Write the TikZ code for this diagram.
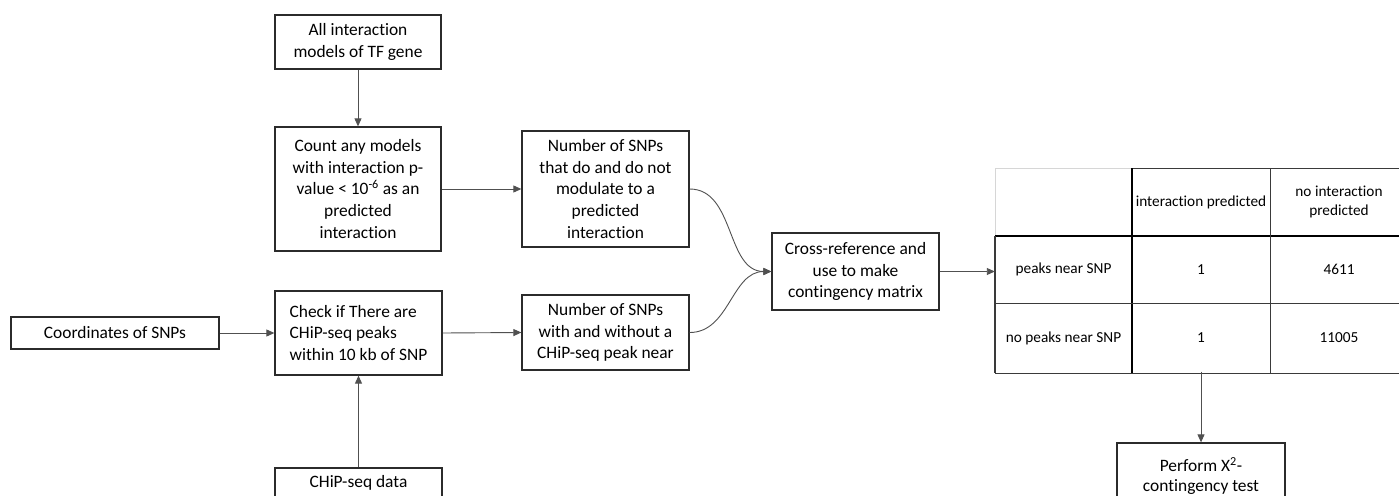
\documentclass[tikz,border=0pt]{standalone}
\usepackage{fontspec}
\setmainfont{Carlito}[Ligatures=NoCommon]
\usetikzlibrary{arrows.meta}
\definecolor{boxline}{HTML}{2B2B2B}
\definecolor{linkgray}{HTML}{505050}
\definecolor{gridline}{HTML}{3A3A3A}
\definecolor{faintline}{HTML}{D6D6D6}
\begin{document}
\begin{tikzpicture}[x=1pt,y=-1pt,
  box/.style={draw=boxline,line width=1.3pt,fill=white,inner sep=0pt,align=center,
    font=\fontsize{17.4}{21.6}\selectfont},
  link/.style={draw=linkgray,line width=0.9pt,-{Triangle[length=8pt,width=7pt]}},
  cell/.style={inner sep=0pt,align=center,minimum width=137pt,minimum height=67pt,
    font=\fontsize{15.3}{19.5}\selectfont},
  grid/.style={draw=gridline,line width=0.9pt},
]
\fill[white] (0,0) rectangle (1399,495);
\useasboundingbox (0,0) rectangle (1399,495);

% process boxes
\node[box,minimum width=166pt,minimum height=54pt] (all) at (358,42)
  {All interaction\\models of TF gene};
\node[box,minimum width=166pt,minimum height=124pt] (count) at (358,189)
  {Count any models\\with interaction p-\\value < 10\textsuperscript{-6} as an\\predicted\\interaction};
\node[box,minimum width=208pt,minimum height=32pt] (coords) at (115,333)
  {Coordinates of SNPs};
\node[box,align=left,minimum width=167pt,minimum height=84pt] (check) at (358.5,333)
  {Check if There are\\CHiP-seq peaks\\within 10 kb of SNP};
\node[box,minimum width=167pt,minimum height=30pt] (chip) at (358.5,483)
  {CHiP-seq data};
\node[box,minimum width=167pt,minimum height=116pt] (num1) at (605.5,189)
  {Number of SNPs\\that do and do not\\modulate to a\\predicted\\interaction};
\node[box,minimum width=167pt,minimum height=75pt] (num2) at (605.5,332.5)
  {Number of SNPs\\with and without a\\CHiP-seq peak near};
\node[box,minimum width=167pt,minimum height=77pt] (cross) at (855.5,271.5)
  {Cross-reference and\\use to make\\contingency matrix};
\node[box,minimum width=168pt,minimum height=66pt,
      font=\fontsize{17.4}{20.5}\selectfont] (perform) at (1201,476)
  {Perform X\textsuperscript{2}-\\contingency test};

% contingency table
\node[cell] (h2) at (1201,202) {interaction predicted};
\node[cell] (h3) at (1339,202) {no interaction\\predicted};
\node[cell] (r1) at (1063.5,269.5) {peaks near SNP};
\node[cell] (r1a) at (1201,269.5) {1};
\node[cell] (r1b) at (1339,269.5) {4611};
\node[cell] (r2) at (1063.5,338) {no peaks near SNP};
\node[cell] (r2a) at (1201,338) {1};
\node[cell] (r2b) at (1339,338) {11005};

\draw[draw=faintline,line width=0.9pt] (995,236) -- (995,168) -- (1132,168);
\draw[grid] (1132,168) -- (1399,168);
\draw[draw=black,line width=2.4pt] (995,236) -- (1399,236);
\draw[grid,line width=1.3pt] (995,236) -- (995,373);
\draw[grid,draw=black,line width=1.6pt] (1132,168) -- (1132,373);
\draw[grid] (1270,168) -- (1270,373);
\draw[grid] (995,303) -- (1399,303);
\draw[grid] (995,373) -- (1399,373);

% connectors
\draw[link] (all) -- (count);
\draw[link] (count.east) -- (num1.west);
\draw[link] (coords.east) -- (check.west);
\draw[link] (check.east) -- (num2.west);
\draw[link] (chip) -- (check);
\draw[link] (num1.east) to[out=0,in=180] (cross.west);
\draw[link] (num2.east) to[out=0,in=180] (cross.west);
\draw[link] (cross.east) -- (cross.east -| r1.west);
\draw[link] (r2a.south) -- (perform.north);
\end{tikzpicture}
\end{document}
